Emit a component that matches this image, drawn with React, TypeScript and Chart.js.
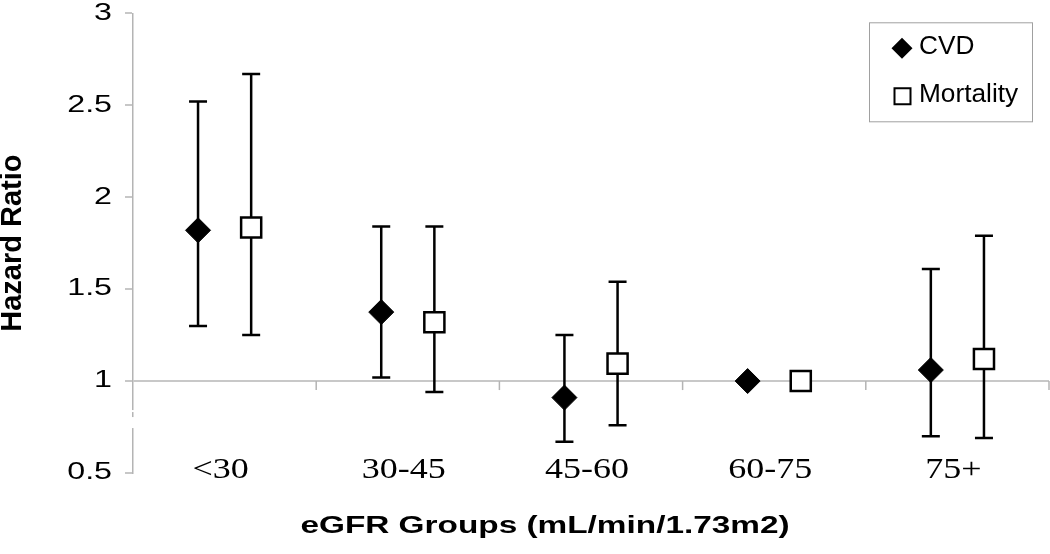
import React, { useEffect, useRef } from 'react';
import { Chart, registerables } from 'chart.js';

Chart.register(...registerables);

// ---- data ----
const groups = ['<30', '30-45', '45-60', '60-75', '75+'];
const seriesNames = ['CVD', 'Mortality'];
const cvdHR = [1.82, 1.375, 0.91, 1.0, 1.06];
const cvdLower = [1.3, 1.02, 0.67, 1.0, 0.7];
const cvdUpper = [2.52, 1.84, 1.25, 1.0, 1.61];
const mortHR = [1.835, 1.32, 1.095, 1.0, 1.12];
const mortLower = [1.25, 0.94, 0.76, 1.0, 0.69];
const mortUpper = [2.67, 1.84, 1.54, 1.0, 1.79];
const yMin = 0.5;
const yMax = 3;
const yStep = 0.5;
const refLine = 1;
const xTitle = 'eGFR Groups (mL/min/1.73m2)';
const yTitle = 'Hazard Ratio';

const GROUP_OFFSET = 0.145;
const SANS = '"Liberation Sans", Arial, sans-serif';
const SERIF = '"Liberation Serif", "Times New Roman", serif';

// horizontal text stretch (the reference text is drawn wide)
function installStretch(ctx: any) {
  const orig = ctx.fillText;
  ctx.__sx = 1.4;
  ctx.fillText = function (text: string, x: number, y: number, maxWidth?: number) {
    const m = this.getTransform();
    const sx = this.__sx;
    if (sx === 1 || Math.abs(m.b) > 1e-6 || Math.abs(m.c) > 1e-6) {
      return maxWidth === undefined ? orig.call(this, text, x, y) : orig.call(this, text, x, y, maxWidth);
    }
    const px = m.a * x + m.e;
    this.save();
    this.setTransform(m.a * sx, 0, 0, m.d, sx * m.e + px * (1 - sx), m.f);
    if (maxWidth === undefined) orig.call(this, text, x, y);
    else orig.call(this, text, x, y, maxWidth);
    this.restore();
  };
}

const errorBarsPlugin = {
  id: 'errorBars',
  beforeDatasetsDraw(chart: any) {
    const { ctx, scales } = chart;
    const x = scales.x;
    const y = scales.y;
    const bounds = [
      [cvdLower, cvdUpper],
      [mortLower, mortUpper],
    ];
    ctx.save();
    ctx.strokeStyle = '#000';
    ctx.lineWidth = 2.5;
    chart.data.datasets.forEach((ds: any, di: number) => {
      const [lo, hi] = bounds[di];
      ds.data.forEach((pt: any, i: number) => {
        if (lo[i] === hi[i]) return;
        const px = x.getPixelForValue(pt.x);
        const yl = y.getPixelForValue(lo[i]);
        const yh = y.getPixelForValue(hi[i]);
        ctx.beginPath();
        ctx.moveTo(px, yl);
        ctx.lineTo(px, yh);
        ctx.moveTo(px - 9, yl);
        ctx.lineTo(px + 9, yl);
        ctx.moveTo(px - 9, yh);
        ctx.lineTo(px + 9, yh);
        ctx.stroke();
      });
    });
    ctx.restore();
  },
};

const decorPlugin = {
  id: 'decor',
  beforeDatasetsDraw(chart: any) {
    const { ctx, scales, chartArea } = chart;
    const x = scales.x;
    const y = scales.y;
    const y1 = y.getPixelForValue(refLine);
    ctx.save();
    // category tick marks on the reference line
    ctx.strokeStyle = '#b4b4b4';
    ctx.lineWidth = 1.5;
    for (let i = 0; i < groups.length; i++) {
      const px = x.getPixelForValue(i + 0.5);
      ctx.beginPath();
      ctx.moveTo(px, y1);
      ctx.lineTo(px, y1 + 9);
      ctx.stroke();
    }
    // axis break
    ctx.fillStyle = '#fff';
    ctx.fillRect(chartArea.left - 3, y1 + 29, 6, 2);
    ctx.fillRect(chartArea.left - 3, y1 + 36, 6, 11);
    ctx.restore();
  },
  afterDraw(chart: any) {
    const { ctx, scales, chartArea } = chart;
    const x = scales.x;
    const y = scales.y;
    ctx.save();
    // category labels
    (ctx as any).__sx = 1.2;
    ctx.fillStyle = '#000';
    ctx.font = `30px ${SERIF}`;
    ctx.textAlign = 'center';
    ctx.textBaseline = 'middle';
    const ly = y.getPixelForValue(yMin) - 3;
    groups.forEach((g, i) => ctx.fillText(g, x.getPixelForValue(i) - 4, ly));

    // x-axis title
    (ctx as any).__sx = 1.45;
    ctx.font = `bold 23px ${SANS}`;
    ctx.fillText(xTitle, (chartArea.left + chartArea.right) / 2 - 46, x.bottom - 27);

    // legend
    (ctx as any).__sx = 1.05;
    const bx = chartArea.right - 180;
    const by = chartArea.top + 9;
    ctx.strokeStyle = '#a0a0a0';
    ctx.lineWidth = 1;
    ctx.fillStyle = '#fff';
    ctx.fillRect(bx + 0.5, by + 0.5, 163, 99);
    ctx.strokeRect(bx + 0.5, by + 0.5, 163, 99);
    ctx.font = `25px ${SANS}`;
    ctx.textAlign = 'left';
    ctx.textBaseline = 'middle';
    const rows = [by + 25, by + 73];
    chart.data.datasets.forEach((ds: any, di: number) => {
      const cx = bx + 33;
      const cy = rows[di];
      ctx.beginPath();
      if (di === 0) {
        ctx.moveTo(cx - 10.5, cy + 1);
        ctx.lineTo(cx, cy - 9.5);
        ctx.lineTo(cx + 10.5, cy + 1);
        ctx.lineTo(cx, cy + 11.5);
        ctx.closePath();
        ctx.fillStyle = '#000';
        ctx.fill();
      } else {
        ctx.rect(cx - 7.5, cy - 7, 16, 16);
        ctx.fillStyle = '#fff';
        ctx.fill();
        ctx.lineWidth = 2;
        ctx.strokeStyle = '#000';
        ctx.stroke();
      }
      ctx.fillStyle = '#000';
      ctx.fillText(ds.label, bx + 50, cy);
    });
    (ctx as any).__sx = 1.4;
    ctx.restore();
  },
};

export default function App() {
  const ref = useRef<HTMLCanvasElement | null>(null);
  useEffect(() => {
    const canvas = ref.current;
    if (!canvas) return;
    const ctx2d = canvas.getContext('2d');
    installStretch(ctx2d);
    const chart = new Chart(canvas, {
      type: 'scatter',
      data: {
        datasets: [
          {
            label: seriesNames[0],
            data: cvdHR.map((v, i) => ({ x: i - GROUP_OFFSET, y: v })),
            showLine: false,
            pointStyle: 'rectRot',
            pointRadius: 12.5,
            pointHoverRadius: 12.5,
            backgroundColor: '#000',
            borderColor: '#000',
            borderWidth: 1,
          },
          {
            label: seriesNames[1],
            data: mortHR.map((v, i) => ({ x: i + GROUP_OFFSET, y: v })),
            showLine: false,
            pointStyle: 'rect',
            pointRadius: 14.2,
            pointHoverRadius: 14.2,
            backgroundColor: '#fff',
            borderColor: '#000',
            borderWidth: 2.5,
          },
        ],
      },
      options: {
        responsive: false,
        animation: false,
        events: [],
        layout: { autoPadding: false, padding: { left: 0, right: 1, top: 0, bottom: 0 } },
        plugins: { legend: { display: false }, tooltip: { enabled: false } },
        scales: {
          x: {
            type: 'linear',
            min: -0.5,
            max: groups.length - 0.5,
            position: 'bottom',
            grid: { display: false },
            border: { display: false },
            ticks: { display: false },
            title: { display: false },
            afterFit(scale: any) {
              scale.height = 81;
            },
          },
          y: {
            type: 'linear',
            min: yMin,
            max: yMax,
            position: 'left',
            ticks: {
              stepSize: yStep,
              color: '#000',
              padding: 13,
              font: { family: SANS, size: 23, lineHeight: 1.15 },
              callback: (v: any) => String(v),
            },
            grid: {
              color: (c: any) => (c.tick && c.tick.value === refLine ? '#c8c8c8' : 'rgba(0,0,0,0)'),
              lineWidth: 2,
              tickColor: '#b4b4b4',
              tickLength: 8,
              tickWidth: 1.5,
            },
            border: { display: true, color: '#b4b4b4', width: 1.5 },
            title: {
              display: true,
              text: yTitle,
              color: '#000',
              font: { family: SANS, size: 29, weight: 'bold', lineHeight: 0.9 },
              padding: 0,
            },
            afterFit(scale: any) {
              scale.width = 133;
              scale.paddingTop = 13.3;
              scale.paddingBottom = 0;
            },
          },
        },
      },
      plugins: [errorBarsPlugin, decorPlugin],
    } as any);
    return () => chart.destroy();
  }, []);
  return (
    <div style={{ position: 'absolute', left: 0, top: 0, width: 1050, height: 554, background: '#fff' }}>
      <canvas ref={ref} width={1050} height={554} style={{ display: 'block', width: 1050, height: 554 }} />
    </div>
  );
}
